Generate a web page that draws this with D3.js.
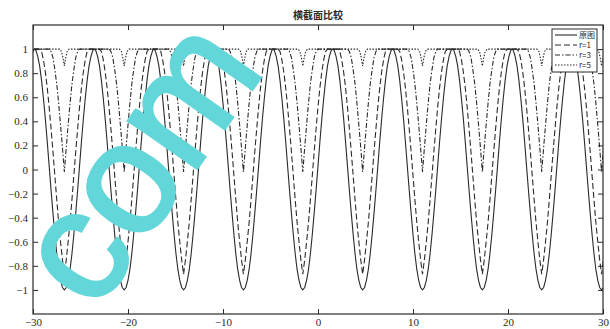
<!DOCTYPE html>
<html>
<head>
<meta charset="utf-8">
<script src="https://cdn.jsdelivr.net/npm/d3@7"></script>
<style>
  body { margin: 0; background: #fff; }
  svg { display: block; }
</style>
</head>
<body>
<div id="chart"></div>
<script>
// values
const title = "横截面比较";
const xTicks = [-30, -20, -10, 0, 10, 20, 30];
const yTicks = [-1, -0.8, -0.6, -0.4, -0.2, 0, 0.2, 0.4, 0.6, 0.8, 1];
const seriesNames = ["原图", "r=1", "r=3", "r=5"];
// x position of each dip (one per period)
const dipCenters = [-32.95, -26.7, -20.4, -14.15, -7.85, -1.6, 4.7, 11.0, 17.3, 23.55, 29.85];
// half profile of one dip: [offset from centre, value]
const profileOriginal = [[0, -1], [0.2, -0.98], [0.4, -0.92], [0.6, -0.83], [0.8, -0.7], [1.0, -0.54],
  [1.2, -0.36], [1.4, -0.17], [1.6, 0.03], [1.8, 0.23], [2.0, 0.42], [2.2, 0.59], [2.4, 0.74],
  [2.6, 0.86], [2.8, 0.94], [3.0, 0.99], [3.14, 1]];
const profileR1 = [[0, -0.87], [0.2, -0.75], [0.4, -0.6], [0.6, -0.44], [0.8, -0.25], [1.0, -0.05],
  [1.2, 0.15], [1.4, 0.34], [1.6, 0.52], [1.8, 0.68], [2.0, 0.81], [2.2, 0.91], [2.4, 0.98], [2.62, 1]];
const profileR3 = [[0, -0.02], [0.2, 0.18], [0.4, 0.37], [0.6, 0.55], [0.8, 0.71], [1.0, 0.83],
  [1.2, 0.93], [1.4, 0.98], [1.57, 1]];
const profileR5 = [[0, 0.86], [0.15, 0.93], [0.3, 0.98], [0.5, 1]];

const width = 610, height = 329;
const margin = {left: 33, right: 7, top: 25, bottom: 15};
const ink = "#2a2a2a";

const svg = d3.select("#chart").append("svg")
  .attr("width", width).attr("height", height);

const x = d3.scaleLinear().domain([-30, 30]).range([margin.left, width - margin.right]);
const y = d3.scaleLinear().domain([-1.2, 1.2]).range([height - margin.bottom, margin.top]);

// put the half profile on every dip centre (mirrored)
function buildSeries(profile) {
  const pts = [];
  dipCenters.forEach(c => {
    const half = profile.slice(1).map(p => [c - p[0], p[1]]).reverse();
    half.push([c, profile[0][1]]);
    profile.slice(1).forEach(p => half.push([c + p[0], p[1]]));
    half.forEach(p => pts.push(p));
  });
  return pts.sort((a, b) => a[0] - b[0]);
}

const series = [
  {name: seriesNames[0], data: buildSeries(profileOriginal), dash: null},
  {name: seriesNames[1], data: buildSeries(profileR1), dash: "6,3"},
  {name: seriesNames[2], data: buildSeries(profileR3), dash: "5,2,1.5,2"},
  {name: seriesNames[3], data: buildSeries(profileR5), dash: "1.5,1.5"}
];

svg.append("defs").append("clipPath").attr("id", "plot")
  .append("rect")
  .attr("x", margin.left).attr("y", margin.top)
  .attr("width", width - margin.left - margin.right)
  .attr("height", height - margin.top - margin.bottom);

const line = d3.line().x(d => x(d[0])).y(d => y(d[1]));

svg.append("g").attr("clip-path", "url(#plot)")
  .selectAll("path")
  .data(series.slice().reverse())
  .enter()
  .append("path")
  .attr("d", d => line(d.data))
  .attr("fill", "none")
  .attr("stroke", ink)
  .attr("stroke-width", 1.1)
  .attr("stroke-dasharray", d => d.dash);

// axes, ticks pointing inward on all four sides
const fontTick = "'Liberation Serif', 'DejaVu Serif', serif";

const xAxis = svg.append("g")
  .attr("transform", "translate(0," + y.range()[0] + ")")
  .call(d3.axisBottom(x).tickValues(xTicks).tickSizeInner(-5).tickSizeOuter(0).tickPadding(4));
const xAxisTop = svg.append("g")
  .attr("transform", "translate(0," + margin.top + ")")
  .call(d3.axisTop(x).tickValues(xTicks).tickSizeInner(-5).tickSizeOuter(0).tickFormat(""));
const yAxis = svg.append("g")
  .attr("transform", "translate(" + margin.left + ",0)")
  .call(d3.axisLeft(y).tickValues(yTicks).tickSizeInner(-5).tickSizeOuter(0).tickPadding(5));
const yAxisRight = svg.append("g")
  .attr("transform", "translate(" + (width - margin.right) + ",0)")
  .call(d3.axisRight(y).tickValues(yTicks).tickSizeInner(-5).tickSizeOuter(0).tickFormat(""));

[xAxis, xAxisTop, yAxis, yAxisRight].forEach(g => {
  g.select(".domain").remove();
  g.selectAll("line").attr("stroke", ink);
  g.selectAll("text").attr("fill", ink).style("font-family", fontTick).style("font-size", "11px");
});
yAxis.selectAll("text").text(d => {
  const v = Math.round(d * 10) / 10;
  return v < 0 ? "\u2212" + Math.abs(v) : v;
});
xAxis.selectAll("text").text(d => d < 0 ? "\u2212" + Math.abs(d) : d);

svg.append("rect")
  .attr("x", margin.left).attr("y", margin.top)
  .attr("width", width - margin.left - margin.right)
  .attr("height", height - margin.top - margin.bottom)
  .attr("fill", "none").attr("stroke", ink).attr("stroke-width", 1.2);

svg.append("text")
  .attr("x", (x(-30) + x(30)) / 2).attr("y", 19)
  .attr("text-anchor", "middle")
  .style("font-family", "'Noto Sans CJK SC', sans-serif")
  .style("font-size", "10px").style("font-weight", "bold")
  .attr("fill", ink)
  .text(title);

// legend
const legend = svg.append("g").attr("transform", "translate(552,29)");
legend.append("rect").attr("width", 45).attr("height", 43)
  .attr("fill", "#fff").attr("stroke", ink).attr("stroke-width", 1);
const item = legend.selectAll(".item").data(series).enter().append("g")
  .attr("transform", (d, i) => "translate(0," + (6 + i * 10) + ")");
item.append("line").attr("x1", 3).attr("x2", 25).attr("y1", 0).attr("y2", 0)
  .attr("stroke", ink).attr("stroke-width", 1.1).attr("stroke-dasharray", d => d.dash);
item.append("text").attr("x", 27).attr("y", 3)
  .style("font-family", "'Noto Sans CJK SC', sans-serif").style("font-size", "8px")
  .attr("fill", ink).text(d => d.name);

// watermark overlay
svg.append("text")
  .attr("transform", "translate(95,314) rotate(-55)")
  .style("font-family", "'Liberation Sans', Arial, sans-serif")
  .style("font-size", "158px")
  .attr("fill", "#62d6d9")
  .attr("stroke", "#62d6d9")
  .attr("stroke-width", 3)
  .text("com");
</script>
</body>
</html>
